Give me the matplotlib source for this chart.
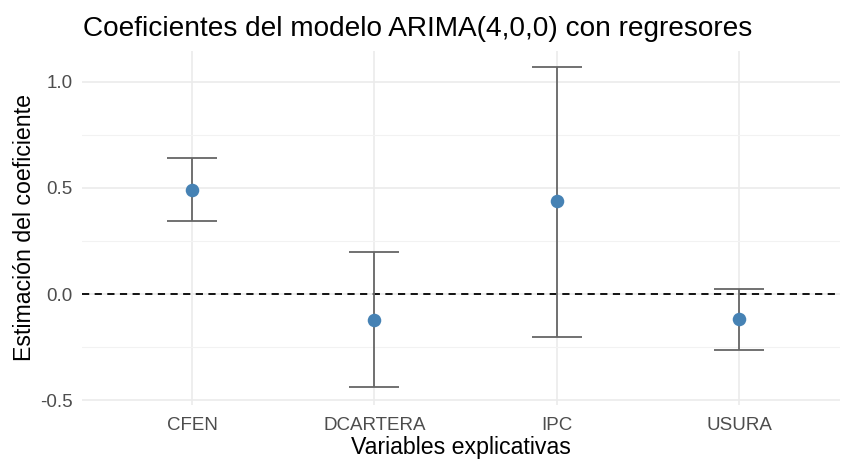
import matplotlib
matplotlib.use("Agg")
import matplotlib.pyplot as plt
from matplotlib.ticker import MultipleLocator

plt.rcParams["font.family"] = ["Liberation Sans", "DejaVu Sans"]
plt.rcParams["axes.unicode_minus"] = False

# Data
variables = ["CFEN", "DCARTERA", "IPC", "USURA"]
estimates = [0.490, -0.123, 0.437, -0.118]
ci_low = [0.343, -0.440, -0.203, -0.265]
ci_high = [0.640, 0.197, 1.070, 0.023]

fig = plt.figure(figsize=(8.41, 4.61), dpi=100)
ax = fig.add_axes([82 / 841, 1 - 404.5 / 461, (840 - 82) / 841, (404.5 - 50.8) / 461])

positions = list(range(1, len(variables) + 1))

# Reference line at zero
ax.axhline(0, color="black", linewidth=1.3, linestyle=(0, (4, 3)), zorder=2)

# Confidence intervals
lower_err = [e - lo for e, lo in zip(estimates, ci_low)]
upper_err = [hi - e for e, hi in zip(estimates, ci_high)]
ax.errorbar(positions, estimates, yerr=[lower_err, upper_err], fmt="none",
            ecolor="#666666", elinewidth=1.3, capsize=18, capthick=1.3, zorder=3)

# Point estimates
ax.scatter(positions, estimates, s=95, color="#4682B4", zorder=4, linewidths=0)

# Axis limits and ticks
ax.set_xlim(0.397, 4.554)
ax.set_ylim(-0.521, 1.147)
ax.set_xticks(positions)
ax.set_xticklabels(variables)
ax.yaxis.set_major_locator(MultipleLocator(0.5))
ax.yaxis.set_minor_locator(MultipleLocator(0.25))

# theme_minimal look
for spine in ax.spines.values():
    spine.set_visible(False)
ax.grid(which="major", color="#EBEBEB", linewidth=1.2, zorder=0)
ax.grid(which="minor", axis="y", color="#F2F2F2", linewidth=0.8, zorder=0)
ax.set_axisbelow(True)
ax.tick_params(which="both", length=0, labelsize=13.5, labelcolor="#4D4D4D")
ax.tick_params(axis="x", pad=9)
ax.tick_params(axis="y", pad=7)

ax.set_xlabel("Variables explicativas", fontsize=16.7, labelpad=1.5)
ax.set_ylabel("Estimación del coeficiente", fontsize=16.7)
ax.yaxis.set_label_coords(-0.0607, 0.5)
ax.set_title("Coeficientes del modelo ARIMA(4,0,0) con regresores",
             fontsize=20.2, loc="left", x=0.001, pad=11)

fig.savefig("out.png", dpi=100)
